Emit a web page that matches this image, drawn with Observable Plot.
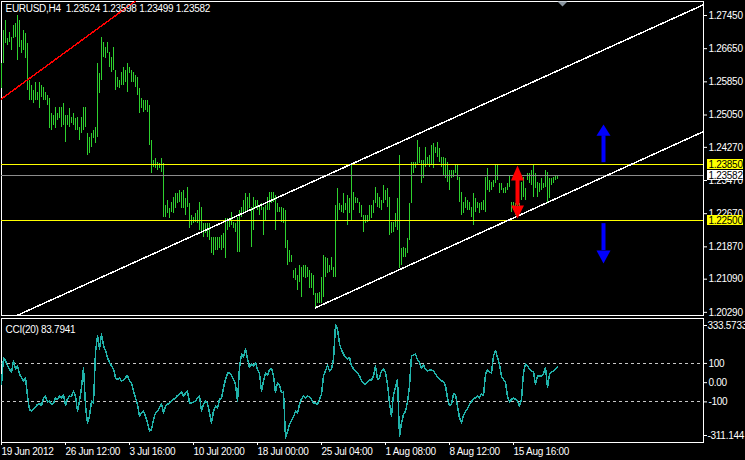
<!DOCTYPE html>
<html><head><meta charset="utf-8">
<script src="https://cdn.jsdelivr.net/npm/d3@7"></script>
<script src="https://cdn.jsdelivr.net/npm/@observablehq/plot@0.6"></script>
<style>
html,body{margin:0;padding:0;background:#000;}
#chart{width:745px;height:460px;background:#000;overflow:hidden;}
#chart svg{display:block;}
#chart svg text{letter-spacing:-0.28px;}
</style></head><body><div id="chart"></div>
<script>
// ---- data ----
const symbol = "EURUSD,H4";
const lastOHLC = [1.23524, 1.23598, 1.23499, 1.23582];

const highs = [
1.2629,1.2709,1.2733,1.2690,1.2704,1.2692,1.2721,1.2726,1.2745,1.2733,
1.2685,1.2709,1.2702,1.2677,1.2588,1.2576,1.2564,1.2583,1.2559,1.2583,
1.2576,1.2571,1.2559,1.2552,1.2545,1.2509,1.2504,1.2523,1.2509,1.2523,
1.2523,1.2533,1.2504,1.2504,1.2521,1.2499,1.2509,1.2496,1.2499,1.2475,
1.2499,1.2523,1.2523,1.2460,1.2451,1.2460,1.2468,1.2475,1.2629,1.2605,
1.2692,1.2680,1.2668,1.2680,1.2656,1.2644,1.2668,1.2612,1.2595,1.2588,
1.2608,1.2620,1.2612,1.2629,1.2620,1.2612,1.2608,1.2600,1.2595,1.2569,
1.2545,1.2540,1.2540,1.2540,1.2528,1.2443,1.2395,1.2400,1.2390,1.2388,
1.2400,1.2388,1.2287,1.2299,1.2279,1.2294,1.2306,1.2315,1.2315,1.2323,
1.2318,1.2323,1.2303,1.2330,1.2291,1.2262,1.2258,1.2267,1.2274,1.2294,
1.2282,1.2243,1.2243,1.2243,1.2243,1.2209,1.2209,1.2209,1.2209,1.2209,
1.2214,1.2219,1.2255,1.2255,1.2250,1.2270,1.2245,1.2243,1.2258,1.2274,
1.2282,1.2299,1.2315,1.2306,1.2315,1.2282,1.2306,1.2299,1.2299,1.2282,
1.2291,1.2282,1.2287,1.2306,1.2318,1.2318,1.2318,1.2311,1.2291,1.2282,
1.2282,1.2279,1.2274,1.2202,1.2178,1.2166,1.2130,1.2134,1.2118,1.2142,
1.2137,1.2142,1.2142,1.2137,1.2130,1.2122,1.2118,1.2074,1.2074,1.2077,
1.2113,1.2166,1.2161,1.2159,1.2142,1.2161,1.2137,1.2287,1.2328,1.2291,
1.2287,1.2315,1.2291,1.2311,1.2303,1.2383,1.2318,1.2306,1.2303,1.2294,
1.2287,1.2262,1.2262,1.2262,1.2287,1.2287,1.2299,1.2330,1.2315,1.2306,
1.2299,1.2335,1.2323,1.2328,1.2306,1.2245,1.2245,1.2267,1.2303,1.2407,
1.2183,1.2185,1.2183,1.2207,1.2291,1.2390,1.2390,1.2390,1.2443,1.2426,
1.2395,1.2395,1.2426,1.2402,1.2407,1.2431,1.2436,1.2426,1.2439,1.2424,
1.2402,1.2402,1.2400,1.2390,1.2371,1.2371,1.2371,1.2383,1.2383,1.2354,
1.2318,1.2294,1.2306,1.2299,1.2294,1.2282,1.2315,1.2303,1.2294,1.2291,
1.2294,1.2299,1.2354,1.2376,1.2347,1.2342,1.2347,1.2383,1.2383,1.2340,
1.2340,1.2328,1.2330,1.2340,1.2359,1.2294,1.2294,1.2291,1.2294,1.2291,
1.2342,1.2354,1.2328,1.2364,1.2364,1.2371,1.2383,1.2364,1.2342,1.2340,
1.2352,1.2340,1.2371,1.2366,1.2352,1.2352,1.2354,1.2359,1.23598
];
const lows = [
1.2569,1.2629,1.2677,1.2673,1.2680,1.2661,1.2690,1.2692,1.2636,1.2668,
1.2653,1.2661,1.2641,1.2564,1.2540,1.2540,1.2533,1.2540,1.2540,1.2521,
1.2547,1.2540,1.2540,1.2528,1.2472,1.2468,1.2480,1.2472,1.2492,1.2496,
1.2475,1.2480,1.2439,1.2480,1.2475,1.2484,1.2480,1.2468,1.2468,1.2443,
1.2460,1.2468,1.2475,1.2407,1.2412,1.2426,1.2448,1.2436,1.2451,1.2557,
1.2588,1.2644,1.2641,1.2653,1.2620,1.2608,1.2612,1.2564,1.2571,1.2569,
1.2576,1.2576,1.2583,1.2559,1.2605,1.2583,1.2583,1.2571,1.2552,1.2509,
1.2521,1.2511,1.2516,1.2511,1.2431,1.2364,1.2378,1.2376,1.2371,1.2376,
1.2366,1.2258,1.2258,1.2267,1.2255,1.2270,1.2267,1.2279,1.2291,1.2294,
1.2279,1.2279,1.2262,1.2282,1.2231,1.2238,1.2243,1.2245,1.2243,1.2226,
1.2221,1.2209,1.2219,1.2209,1.2202,1.2171,1.2166,1.2178,1.2178,1.2183,
1.2178,1.2183,1.2159,1.2226,1.2233,1.2238,1.2231,1.2221,1.2173,1.2173,
1.2258,1.2267,1.2270,1.2274,1.2279,1.2185,1.2226,1.2282,1.2274,1.2262,
1.2274,1.2214,1.2250,1.2274,1.2274,1.2291,1.2294,1.2226,1.2270,1.2270,
1.2245,1.2243,1.2183,1.2142,1.2149,1.2149,1.2110,1.2106,1.2081,1.2101,
1.2065,1.2113,1.2110,1.2113,1.2086,1.2086,1.2069,1.2040,1.2050,1.2050,
1.2050,1.2065,1.2113,1.2122,1.2125,1.2130,1.2113,1.2113,1.2250,1.2274,
1.2270,1.2267,1.2274,1.2238,1.2267,1.2250,1.2274,1.2291,1.2291,1.2267,
1.2258,1.2221,1.2243,1.2245,1.2250,1.2255,1.2267,1.2291,1.2282,1.2279,
1.2274,1.2291,1.2299,1.2282,1.2214,1.2219,1.2221,1.2233,1.2226,1.2134,
1.2142,1.2161,1.2161,1.2171,1.2202,1.2291,1.2364,1.2376,1.2383,1.2388,
1.2340,1.2352,1.2378,1.2383,1.2378,1.2383,1.2376,1.2412,1.2402,1.2390,
1.2378,1.2359,1.2352,1.2342,1.2323,1.2352,1.2354,1.2364,1.2347,1.2294,
1.2262,1.2267,1.2279,1.2274,1.2274,1.2258,1.2238,1.2270,1.2279,1.2267,
1.2274,1.2274,1.2270,1.2323,1.2318,1.2323,1.2330,1.2340,1.2347,1.2315,
1.2323,1.2315,1.2315,1.2323,1.2330,1.2270,1.2274,1.2262,1.2258,1.2267,
1.2299,1.2306,1.2299,1.2347,1.2340,1.2335,1.2306,1.2328,1.2306,1.2318,
1.2323,1.2328,1.2330,1.2294,1.2303,1.2335,1.2340,1.2347,1.23499
];
const cci = [
-9,131,113,87,70,52,113,70,87,44,
26,9,26,-70,-140,-148,-136,-126,-113,-108,
-119,-79,-70,-101,-96,-113,-108,-79,-87,-70,
-79,-61,-119,-84,-70,-73,-44,-70,-148,-96,
-26,79,-122,-209,-175,-96,-105,157,244,175,
253,192,166,131,105,87,70,26,17,26,
9,14,26,38,9,0,-44,-79,-113,-175,
-157,-148,-175,-209,-253,-244,-192,-157,-148,-131,
-108,-157,-122,-113,-105,-96,-87,-79,-66,-61,
-49,-70,-56,-44,-105,-105,-101,-96,-79,-70,
-148,-113,-96,-108,-157,-209,-148,-122,-131,-87,
-79,-26,17,49,52,38,17,-9,-96,79,
148,131,175,122,79,96,87,105,66,49,
-44,9,52,38,66,73,35,-52,0,-14,
-52,-49,-288,-253,-218,-195,-178,-148,-157,-113,
-84,-70,-79,-70,-73,-87,-108,-105,-113,-87,
-61,35,61,91,61,70,122,300,279,201,
171,148,131,122,131,87,73,61,52,35,
9,0,-9,3,14,14,35,87,17,26,
61,70,52,-9,-105,-175,-61,-26,17,-279,
-209,-166,-148,-101,-17,140,143,148,119,105,
73,91,70,61,66,65,61,44,31,21,
9,5,-17,-79,-119,-113,-56,-61,-122,-183,
-209,-171,-148,-136,-113,-101,-82,-79,-70,-79,
-58,-66,44,66,56,49,140,166,131,96,
31,17,0,-70,-101,-87,-79,-87,-96,-122,
-87,52,96,87,70,61,56,-9,35,35,
35,44,79,-26,44,56,61,70,83.7941
];

const priceTicks = [1.27450,1.26650,1.25850,1.25050,1.24270,1.23470,1.22670,1.21870,1.21090,1.20290];
const levels = [1.23850, 1.22500];
const bidPrice = 1.23582;
const upperChannel = [{bar: 8, price: 1.2022}, {bar: 351, price: 1.2771}];
const lowerChannel = [{bar: 157, price: 1.2040}, {bar: 351, price: 1.2465}];
const redTrend = [{bar: 0, price: 1.2544}, {bar: 67, price: 1.2780}];
const blueArrows = [
  {bar: 301, from: 1.2390, to: 1.2455, rotate: 0, head: 13},
  {bar: 301, from: 1.2243, to: 1.2178, rotate: 180, head: 15}
];
const redArrow = {bar: 258, top: 1.2347, bottom: 1.2287};
const shiftMarkBar = 280.5;

const cciPeriod = 20;
const cciLast = "83.7941";
const cciMax = 333.5733, cciMin = -311.144;
const cciLevels = [100, -100];
const cciTicks = [100, 0, -100];
const dateTickBars = [0, 32, 64, 96, 128, 160, 192, 224, 256];
const dateLabels = ["19 Jun 2012","26 Jun 12:00","3 Jul 16:00","10 Jul 20:00","18 Jul 00:00","25 Jul 04:00","1 Aug 08:00","8 Aug 12:00","15 Aug 16:00"];

// ---- chart ----
const W = 745, slots = 351;
const FONT = "'Liberation Sans', Arial, sans-serif";
const bars = highs.map((h, i) => ({bar: i, high: h, low: lows[i]}));
const style = {background: "#000", color: "#fff", fontFamily: FONT, fontSize: "10px", overflow: "visible"};

const tags = [
  {price: levels[0], bg: "#ffff00"},
  {price: bidPrice, bg: "#ffffff"},
  {price: levels[1], bg: "#ffff00"}
];
function priceTags(index, scales, values, dimensions) {
  const g = d3.create("svg:g");
  const x0 = dimensions.width - dimensions.marginRight + 4;
  for (const t of tags) {
    const y = Math.round(scales.y(t.price));
    g.append("rect").attr("x", x0).attr("y", y - 5).attr("width", 36).attr("height", 10).attr("fill", t.bg);
    g.append("text").attr("x", x0 + 1.5).attr("y", y).attr("dy", "0.36em")
      .attr("text-anchor", "start").attr("fill", "#000")
      .attr("font-size", 10).attr("font-family", FONT).text(t.price.toFixed(5));
  }
  return g.node();
}

const main = Plot.plot({
  width: W, height: 317,
  marginTop: 1, marginBottom: 2, marginLeft: 1, marginRight: 42,
  x: {domain: [0, slots], axis: null},
  y: {domain: [1.20214, 1.27788], axis: null},
  style,
  marks: [
    Plot.frame({stroke: "#fff"}),
    Plot.ruleX(bars, {x: "bar", y1: "low", y2: "high", stroke: "#2ed12e", shapeRendering: "crispEdges"}),
    Plot.ruleY([bidPrice], {stroke: "#8c8c8c", shapeRendering: "crispEdges"}),
    Plot.ruleY(levels, {stroke: "#ffff00", shapeRendering: "crispEdges"}),
    Plot.line(redTrend, {x: "bar", y: "price", stroke: "#ff0000", clip: true, shapeRendering: "crispEdges"}),
    Plot.line(upperChannel, {x: "bar", y: "price", stroke: "#fff", clip: true, shapeRendering: "crispEdges"}),
    Plot.line(lowerChannel, {x: "bar", y: "price", stroke: "#fff", clip: true, shapeRendering: "crispEdges"}),
    Plot.ruleX(blueArrows, {x: "bar", y1: "from", y2: "to", stroke: "#0000ff", strokeWidth: 4}),
    Plot.vector(blueArrows, {x: "bar", y: "to", rotate: "rotate", length: "head", r: 7, shape: "spike", anchor: "start", fill: "#0000ff", stroke: "none"}),
    Plot.ruleX([redArrow], {x: "bar", y1: "top", y2: "bottom", stroke: "#ff0000", strokeWidth: 4}),
    Plot.vector([redArrow], {x: "bar", y: "top", rotate: 0, length: 15, r: 6.5, shape: "spike", anchor: "start", fill: "#ff0000", stroke: "none"}),
    Plot.vector([redArrow], {x: "bar", y: "bottom", rotate: 180, length: 13, r: 6.5, shape: "spike", anchor: "start", fill: "#ff0000", stroke: "none"}),
    Plot.vector([shiftMarkBar], {x: d => d, frameAnchor: "top", rotate: 180, length: 5, r: 5, shape: "spike", anchor: "start", fill: "#8a96a0", stroke: "none"}),
    Plot.axisY(priceTicks, {anchor: "right", tickSize: 3, tickPadding: 2, tickFormat: d => d.toFixed(5), color: "#fff", label: null}),
    priceTags,
    Plot.text([`${symbol} \u00a0${lastOHLC.map(v => v.toFixed(5)).join(" ")}`], {frameAnchor: "top-left", dx: 4, dy: 3, lineAnchor: "top", textAnchor: "start", fill: "#fff"})
  ]
});

const sub = Plot.plot({
  width: W, height: 143,
  marginTop: 1, marginBottom: 18, marginLeft: 1, marginRight: 42,
  x: {domain: [0, slots], axis: null},
  y: {domain: [cciMin, cciMax], axis: null},
  style,
  marks: [
    Plot.frame({stroke: "#fff"}),
    Plot.ruleY(cciLevels, {stroke: "#c8c8c8", strokeDasharray: "3,3", shapeRendering: "crispEdges"}),
    Plot.line(cci, {x: (d, i) => i, y: d => d, stroke: "#20b2aa", shapeRendering: "crispEdges"}),
    Plot.axisY(cciTicks, {anchor: "right", tickSize: 3, tickPadding: 2, tickFormat: d => d === 0 ? "0.00" : String(d), color: "#fff", label: null}),
    Plot.axisY([cciMax], {anchor: "right", tickSize: 3, tickPadding: 1, dy: 7, tickFormat: d => d.toFixed(4), color: "#fff", label: null}),
    Plot.axisY([cciMin], {anchor: "right", tickSize: 3, tickPadding: 1, dy: -7, tickFormat: d => d.toFixed(3), color: "#fff", label: null}),
    Plot.axisX(dateTickBars, {anchor: "bottom", tickSize: 3, tickPadding: 2, textAnchor: "start", tickFormat: d => dateLabels[dateTickBars.indexOf(d)], color: "#fff", label: null}),
    Plot.text([`CCI(${cciPeriod}) ${cciLast}`], {frameAnchor: "top-left", dx: 4, dy: 7, lineAnchor: "top", textAnchor: "start", fill: "#fff"})
  ]
});

const chart = document.getElementById("chart");
chart.append(main, sub);
</script>
</body></html>
